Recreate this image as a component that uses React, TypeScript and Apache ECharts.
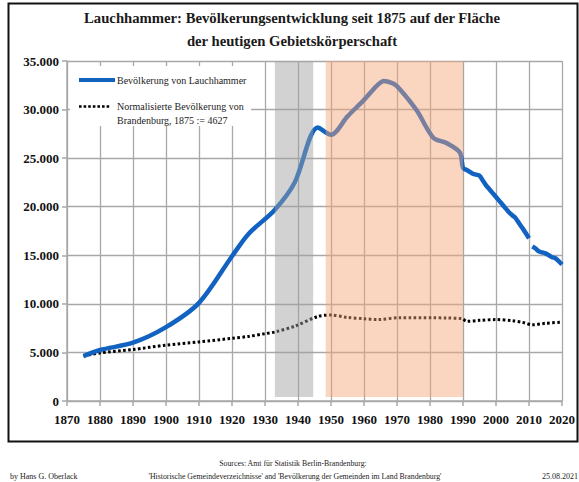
import React, { useEffect, useRef } from "react";
import * as echarts from "echarts";

const popYears1 = [1875, 1880, 1890, 1900, 1910, 1920, 1925, 1933, 1939, 1946, 1950, 1955, 1960, 1964, 1966, 1969, 1971, 1976, 1981, 1985, 1989, 1990, 1991, 1992, 1993, 1994, 1995, 1996, 1997, 1998, 1999, 2000, 2001, 2002, 2003, 2004, 2005, 2006, 2007, 2008, 2009, 2010];
const popValues1 = [4627, 5250, 6000, 7600, 10100, 14900, 17200, 19700, 22500, 28150, 27400, 29300, 31000, 32500, 32950, 32650, 32050, 29900, 27100, 26550, 25600, 24000, 23800, 23600, 23400, 23300, 23200, 22700, 22200, 21800, 21400, 21000, 20600, 20200, 19800, 19400, 19100, 18800, 18300, 17800, 17300, 16750];
const popYears2 = [2011, 2012, 2013, 2014, 2015, 2016, 2017, 2018, 2019, 2020];
const popValues2 = [15900, 15700, 15400, 15300, 15200, 15000, 14800, 14700, 14400, 14050];
const bbYears = [1875, 1880, 1890, 1900, 1910, 1920, 1925, 1930, 1933, 1939, 1946, 1950, 1955, 1960, 1964, 1971, 1981, 1985, 1989, 1990, 1991, 1995, 2000, 2005, 2008, 2011, 2015, 2020];
const bbValues = [4627, 4950, 5300, 5750, 6080, 6450, 6650, 6930, 7100, 7700, 8700, 8850, 8600, 8470, 8380, 8580, 8560, 8550, 8500, 8450, 8200, 8300, 8380, 8260, 8100, 7850, 8000, 8120];

const xTicks = [1870, 1880, 1890, 1900, 1910, 1920, 1930, 1940, 1950, 1960, 1970, 1980, 1990, 2000, 2010, 2020];

const titleLines = ["Lauchhammer: Bevölkerungsentwicklung seit 1875 auf der Fläche", "der heutigen Gebietskörperschaft"];
const legendLabels = ["Bevölkerung von Lauchhammer", "Normalisierte Bevölkerung von", "Brandenburg, 1875 := 4627"];
const footerLeft = "by Hans G. Oberlack";
const footerCenter = ["Sources: Amt für Statistik Berlin-Brandenburg:", "'Historische Gemeindeverzeichnisse' and 'Bevölkerung der Gemeinden im Land Brandenburg'"];
const footerRight = "25.08.2021";

const periods = [
  { from: 1933, to: 1944.6, color: "rgba(160,160,160,0.47)" },
  { from: 1948.4, to: 1990, color: "rgba(244,164,117,0.46)" },
];

const zip = (xs: number[], ys: number[]) => xs.map((x, i) => [x, ys[i]]);

const SERIF = "Liberation Serif";
const BLUE = "#1262c2";
const GRIDC = "#a8a8a8";

export default function App() {
  const ref = useRef<HTMLDivElement>(null);
  useEffect(() => {
    if (!ref.current) return;
    const chart = echarts.init(ref.current, undefined, { renderer: "svg" });
    const option: any = {
      animation: false,
      backgroundColor: "#fff",
      grid: { left: 67, right: 17, top: 61, bottom: 81, containLabel: false },
      xAxis: {
        type: "value",
        min: xTicks[0],
        max: xTicks[xTicks.length - 1],
        interval: 10,
        axisLine: { show: true, lineStyle: { color: GRIDC, width: 1.5 } },
        axisTick: { show: true, length: 5, lineStyle: { color: GRIDC, width: 1.5 } },
        splitLine: { show: true, lineStyle: { color: GRIDC, width: 1.3 } },
        axisLabel: {
          formatter: (v: number) => String(v),
          fontFamily: SERIF,
          fontWeight: "bold",
          fontSize: 13,
          color: "#111",
          margin: 12,
        },
      },
      yAxis: {
        type: "value",
        min: 0,
        max: 35000,
        interval: 5000,
        axisLine: { show: true, lineStyle: { color: GRIDC, width: 1.5 } },
        axisTick: { show: true, length: 5, lineStyle: { color: GRIDC, width: 1.5 } },
        splitLine: { show: true, lineStyle: { color: GRIDC, width: 1.3 } },
        axisLabel: {
          formatter: (v: number) => (v === 0 ? "0" : `${v / 1000}.000`),
          fontFamily: SERIF,
          fontWeight: "bold",
          fontSize: 13,
          color: "#111",
          margin: 8,
        },
      },
      series: [
        {
          type: "line",
          data: zip(bbYears, bbValues),
          smooth: 0.3,
          showSymbol: false,
          lineStyle: { color: "#000", width: 3, type: [2.6, 2.4] },
          z: 2,
        },
        {
          type: "line",
          data: zip(popYears1, popValues1),
          smooth: 0.3,
          showSymbol: false,
          lineStyle: { color: BLUE, width: 4.5 },
          z: 3,
        },
        {
          type: "line",
          data: zip(popYears2, popValues2),
          smooth: 0.3,
          showSymbol: false,
          lineStyle: { color: BLUE, width: 4.5 },
          z: 3,
        },
        {
          type: "line",
          data: [],
          clip: false,
          z: 10,
          markArea: {
            silent: true,
            z: 10,
            data: periods.map((p) => [
              { xAxis: p.from, yAxis: 410, itemStyle: { color: p.color } },
              { xAxis: p.to, yAxis: 35380 },
            ]),
          },
        },
      ],
      graphic: [
        {
          type: "rect",
          z: 50,
          shape: { x: 8.5, y: 3.5, width: 569, height: 438 },
          style: { fill: "none", stroke: "#111", lineWidth: 2 },
        },
        {
          type: "text",
          z: 50,
          x: 292,
          y: 6,
          style: {
            text: titleLines.join("\n"),
            font: `bold 14.7px ${SERIF}`,
            fill: "#1a1a1a",
            textAlign: "center",
            lineHeight: 23,
          },
        },
        {
          type: "rect",
          z: 50,
          shape: { x: 70, y: 66, width: 181, height: 60 },
          style: { fill: "#fff" },
        },
        {
          type: "line",
          z: 51,
          shape: { x1: 79, y1: 80, x2: 115, y2: 80 },
          style: { stroke: BLUE, lineWidth: 4 },
        },
        {
          type: "line",
          z: 51,
          shape: { x1: 79, y1: 106.5, x2: 111, y2: 106.5 },
          style: { stroke: "#000", lineWidth: 2.6, lineDash: [2.6, 2] },
        },
        {
          type: "text",
          z: 51,
          x: 117,
          y: 80,
          style: { text: legendLabels[0], font: `10px ${SERIF}`, fill: "#222", textVerticalAlign: "middle" },
        },
        {
          type: "text",
          z: 51,
          x: 117,
          y: 106,
          style: { text: legendLabels[1], font: `10px ${SERIF}`, fill: "#222", textVerticalAlign: "middle" },
        },
        {
          type: "text",
          z: 51,
          x: 117,
          y: 120,
          style: { text: legendLabels[2], font: `10px ${SERIF}`, fill: "#222", textVerticalAlign: "middle" },
        },
        {
          type: "text",
          z: 51,
          x: 10,
          y: 476,
          style: { text: footerLeft, font: `8px ${SERIF}`, fill: "#222", textVerticalAlign: "middle" },
        },
        {
          type: "text",
          z: 51,
          x: 293,
          y: 463,
          style: { text: footerCenter[0], font: `7.8px ${SERIF}`, fill: "#222", textAlign: "center", textVerticalAlign: "middle" },
        },
        {
          type: "text",
          z: 51,
          x: 295,
          y: 476,
          style: { text: footerCenter[1], font: `7.8px ${SERIF}`, fill: "#222", textAlign: "center", textVerticalAlign: "middle" },
        },
        {
          type: "text",
          z: 51,
          x: 542,
          y: 476,
          style: { text: footerRight, font: `8px ${SERIF}`, fill: "#222", textVerticalAlign: "middle" },
        },
      ],
    };
    chart.setOption(option);
    return () => chart.dispose();
  }, []);
  return (
    <div
      ref={ref}
      style={{ position: "absolute", left: 0, top: 0, width: 579, height: 482, background: "#fff" }}
    />
  );
}
